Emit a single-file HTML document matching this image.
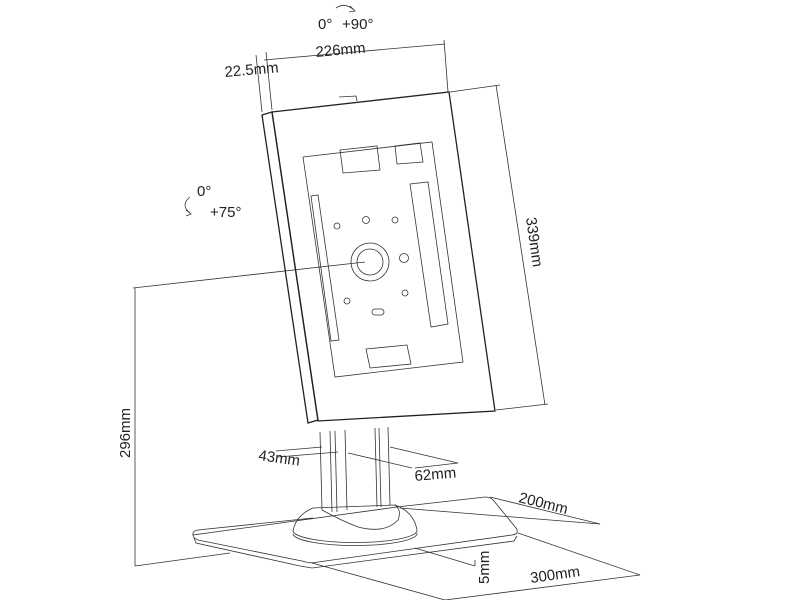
<!DOCTYPE html>
<html><head><meta charset="utf-8"><style>
html,body{margin:0;padding:0;background:#fff}
svg{display:block}
text{font-family:"Liberation Sans",sans-serif;font-size:15px;fill:#222}
</style></head><body>
<svg width="800" height="600" viewBox="0 0 800 600" xmlns="http://www.w3.org/2000/svg">
<g fill="none" stroke="#333" stroke-width="0.8">
<line x1="262" y1="112" x2="256" y2="55"/>
<line x1="272" y1="110" x2="266" y2="52"/>
<line x1="448" y1="92" x2="444" y2="40"/>
<line x1="264" y1="60" x2="445" y2="44"/>
<line x1="450" y1="92" x2="500" y2="85"/>
<line x1="496" y1="410" x2="548" y2="404"/>
<line x1="496" y1="85" x2="545" y2="405"/>
<line x1="133" y1="288" x2="365" y2="262"/>
<line x1="135" y1="288" x2="135" y2="566"/>
<line x1="135" y1="566" x2="230" y2="553"/>
<line x1="276" y1="451" x2="322" y2="447"/>
<line x1="278" y1="457" x2="338" y2="452"/>
<line x1="348" y1="453" x2="412" y2="468"/>
<line x1="390" y1="447" x2="458" y2="463"/>
<line x1="415" y1="468" x2="458" y2="463"/>
<line x1="490" y1="497" x2="600" y2="524"/>
<line x1="518" y1="533" x2="640" y2="575"/>
<line x1="400" y1="508" x2="600" y2="524"/>
<line x1="312" y1="563" x2="445" y2="600"/>
<line x1="445" y1="600" x2="640" y2="575"/>
<line x1="415" y1="548" x2="475" y2="566"/>
<line x1="475" y1="566" x2="475" y2="560"/>
<path d="M336 8 Q345 2 354 10"/>
<path d="M350 6 L355 11 L349 12"/>
<path d="M190 197 Q180 205 190 213"/>
<path d="M186 210 L191 214 L186 216"/>
<g stroke-width="1.3" stroke="#222">
<path d="M262 115 L272 112 L318 420 L308 423 Z"/>
<path d="M272 112 L449 92 L495 411 L318 421 Z"/>
</g>
<path d="M303 157 L432 142 L463 362 L335 377 Z"/>
<path d="M339 97 L356 96 L357 101"/>
<path d="M340 150 L377 146 L380 170 L343 173 Z"/>
<path d="M395 146 L420 143 L423 162 L397 164 Z"/>
<path d="M410 184 L428 182 L448 324 L431 327 Z"/>
<path d="M311 196 L318 195 L339 340 L331 341 Z"/>
<path d="M366 349 L407 345 L411 364 L370 368 Z"/>
<circle cx="370" cy="262" r="19"/>
<circle cx="370" cy="262" r="13"/>
<circle cx="366" cy="220" r="3.5"/>
<circle cx="404" cy="258" r="4.5"/>
<circle cx="337" cy="226" r="3"/><circle cx="395" cy="220" r="3"/>
<circle cx="347" cy="301" r="3"/><circle cx="405" cy="293" r="3"/>
<rect x="372" y="309" width="12" height="6" rx="3"/>
<path d="M320 432 L322 510 M330 431 L332 512 M335 431 L337 512 M345 430 L347 510 M375 428 L377 507 M379 428 L381 507 M388 427 L390 505"/>
<!-- base plate -->
<path d="M193 535 Q192 531 198 530 L313 518 M397 507 L485 497 Q491 497 494 501 L516 528 Q520 534 512 535 L318 562 Q310 564 302 561 L198 540 Q193 538 193 535 Z"/>
<path d="M194 538 L196 543 L300 566 L312 568 L514 541 L517 536"/>
<!-- round base -->
<path d="M293 531 A62 12 0 0 0 417 530"/>
<path d="M293 534 A62 12 0 0 0 417 533"/>
<path d="M293 531 Q296 515 313 508 L395 505 Q414 512 417 530"/>
<path d="M322 510 Q340 520 358 527 Q385 534 398 520 Q402 510 395 505"/>
</g>
<text x="318" y="29">0°</text>
<text x="342" y="29">+90°</text>
<text transform="translate(225,77) rotate(-5)">22.5mm</text>
<text transform="translate(316,57) rotate(-5)">226mm</text>
<text x="197" y="196">0°</text>
<text x="210" y="217">+75°</text>
<text transform="translate(526,218) rotate(82)">339mm</text>
<text transform="translate(130,458) rotate(-90)">296mm</text>
<text transform="translate(258,460) rotate(8)">43mm</text>
<text transform="translate(415,481) rotate(-5)">62mm</text>
<text transform="translate(518,502) rotate(14)">200mm</text>
<text transform="translate(489,584) rotate(-90)">5mm</text>
<text transform="translate(531,583) rotate(-8)">300mm</text>
</svg>
</body></html>
